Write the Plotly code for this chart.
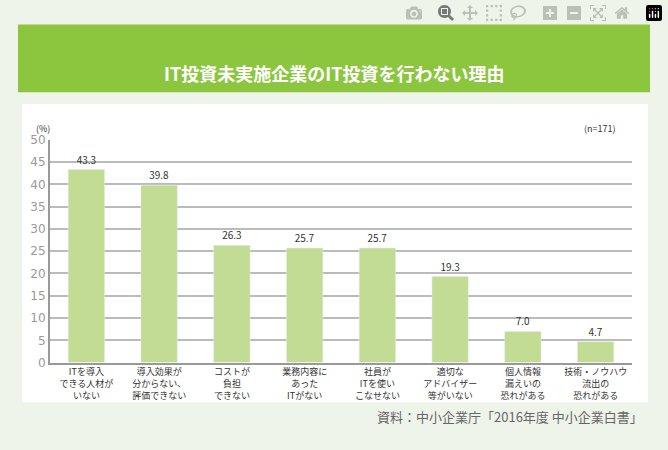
import plotly.graph_objects as go

categories = ["ITを導入<br>できる人材が<br>いない", "導入効果が<br>分からない、<br>評価できない",
              "コストが<br>負担<br>できない", "業務内容に<br>あった<br>ITがない",
              "社員が<br>ITを使い<br>こなせない", "適切な<br>アドバイザー<br>等がいない",
              "個人情報<br>漏えいの<br>恐れがある", "技術・ノウハウ<br>流出の<br>恐れがある"]
values = [43.3, 39.8, 26.3, 25.7, 25.7, 19.3, 7.0, 4.7]
tick_vals = list(range(0, 51, 5))

W, H = 668, 450
fig = go.Figure(go.Bar(x=categories, y=values, marker_color="#c2dc94", width=0.5,
                       text=[f"{v:.1f}" for v in values], textposition="outside",
                       textfont=dict(size=10, color="#333"), cliponaxis=False))

fig.update_layout(
    width=W, height=H, margin=dict(l=0, r=0, t=0, b=0),
    paper_bgcolor="#eff4ea", plot_bgcolor="white",
    font=dict(family="Noto Sans CJK JP", size=10, color="#333"),
    showlegend=False, bargap=0.5,
    xaxis=dict(domain=[50 / W, 632 / W], showline=True, linecolor="#999", linewidth=2,
               tickfont=dict(size=9), ticks=""),
    yaxis=dict(domain=[1 - 367 / H, 1 - 137 / H], range=[0, 50], tickvals=tick_vals,
               gridcolor="#bbb", gridwidth=2, showline=True, linecolor="#999", linewidth=2,
               tickfont=dict(size=12, color="#999", family="Verdana, DejaVu Sans"), zeroline=False),
    shapes=[
        dict(type="rect", xref="paper", yref="paper", x0=22 / W, x1=648 / W,
             y0=1 - 408 / H, y1=1 - 100 / H, fillcolor="white", line_width=0, layer="below"),
        dict(type="rect", xref="paper", yref="paper", x0=18 / W, x1=650 / W,
             y0=1 - 88 / H, y1=1 - 18 / H, fillcolor="#8cc63f", line_width=0, layer="below"),
    ],
    annotations=[
        dict(text="<b>IT投資未実施企業のIT投資を行わない理由</b>", x=334 / W, y=1 - 53 / H,
             xref="paper", yref="paper", showarrow=False, font=dict(size=18, color="white")),
        dict(text="(%)", x=34 / W, y=1 - 117 / H, xref="paper", yref="paper",
             showarrow=False, font=dict(size=9)),
        dict(text="(n=171)", x=618 / W, y=1 - 117 / H, xref="paper", yref="paper",
             showarrow=False, font=dict(size=9)),
        dict(text="資料：中小企業庁「2016年度 中小企業白書」", x=645 / W, y=1 - 435 / H,
             xref="paper", yref="paper", xanchor="right", showarrow=False,
             font=dict(size=13, color="#666")),
    ],
)
fig.write_html("out.html", post_script="document.body.style.margin='0';")
